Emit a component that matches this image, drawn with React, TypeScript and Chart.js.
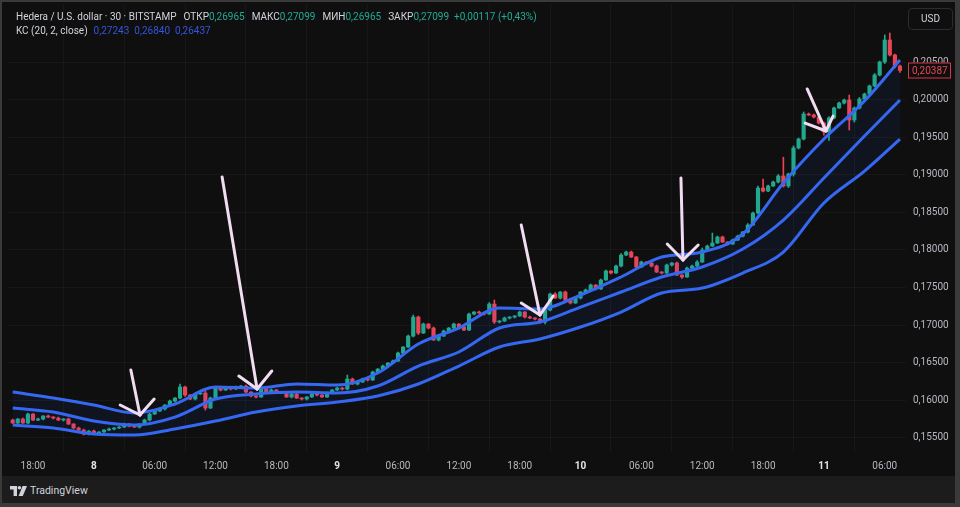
import React, { useEffect, useRef } from "react";
import { Chart, registerables } from "chart.js";

Chart.register(...registerables);

// HBAR/USD 30m candles (open of each bar = previous close)
const firstOpen = 0.15735;
const closes = [
  0.15696, 0.15749, 0.15696, 0.15815, 0.15735, 0.15749, 0.15789, 0.15775, 0.15762, 0.15735,
  0.15749, 0.15682, 0.15629, 0.15602, 0.15549, 0.15589, 0.15562, 0.15576, 0.15602, 0.15616,
  0.15629, 0.15642, 0.15682, 0.15656, 0.15642, 0.15682, 0.15735, 0.15815, 0.15855, 0.15882,
  0.15935, 0.15988, 0.16028, 0.16175, 0.16068, 0.16015, 0.16082, 0.16095, 0.15895, 0.16028,
  0.16161, 0.16135, 0.16161, 0.16148, 0.16175, 0.16188, 0.16108, 0.16055, 0.16042, 0.16148,
  0.16108, 0.16135, 0.16108, 0.16095, 0.16042, 0.16082, 0.16028, 0.16015, 0.16042, 0.16082,
  0.16068, 0.16042, 0.16095, 0.16135, 0.16161, 0.16148, 0.16281, 0.16215, 0.16241, 0.16281,
  0.16268, 0.16374, 0.16414, 0.16454, 0.16494, 0.16521, 0.16627, 0.16707, 0.16853, 0.17106,
  0.16893, 0.17013, 0.1696, 0.168, 0.16853, 0.1692, 0.1696, 0.17013, 0.16973, 0.16933,
  0.17146, 0.17173, 0.1716, 0.17146, 0.17279, 0.1704, 0.17053, 0.17093, 0.17106, 0.1712,
  0.17173, 0.17106, 0.17093, 0.1708, 0.1704, 0.17199, 0.17412, 0.17359, 0.17439, 0.17333,
  0.17293, 0.17359, 0.17439, 0.17466, 0.17532, 0.17479, 0.17599, 0.17719, 0.17692, 0.17785,
  0.17931, 0.17971, 0.17905, 0.17772, 0.17838, 0.17825, 0.17785, 0.17705, 0.17692, 0.17798,
  0.17825, 0.17665, 0.17639, 0.17758, 0.17785, 0.17838, 0.17998, 0.18051, 0.18091, 0.18171,
  0.18104, 0.18078, 0.18131, 0.18184, 0.18238, 0.18331, 0.1849, 0.18823, 0.18783, 0.1885,
  0.18903, 0.18983, 0.1885, 0.19009, 0.19356, 0.19475, 0.19808, 0.19795, 0.19768, 0.19688,
  0.19568, 0.19755, 0.19888, 0.19954, 0.19994, 0.19728, 0.19888, 0.20008, 0.20074, 0.20181,
  0.20327, 0.205, 0.20793, 0.20593, 0.20447, 0.20387,
];
// wick lengths in points (1 point = 0.00001)
const upperWickPts = [
  13, 7, 13, 13, 7, 13, 7, 13, 7, 13,
  7, 13, 7, 13, 13, 7, 13, 7, 7, 13,
  7, 7, 13, 7, 13, 7, 13, 13, 7, 13,
  7, 13, 7, 40, 13, 7, 13, 7, 27, 13,
  13, 7, 13, 7, 13, 7, 13, 7, 7, 13,
  7, 13, 7, 7, 13, 7, 13, 7, 7, 13,
  7, 7, 13, 7, 13, 7, 53, 13, 7, 13,
  7, 13, 7, 13, 7, 13, 13, 7, 13, 27,
  13, 13, 7, 13, 7, 13, 7, 13, 7, 13,
  13, 7, 13, 7, 20, 53, 7, 13, 7, 7,
  13, 7, 13, 7, 7, 13, 13, 20, 7, 13,
  7, 13, 7, 13, 13, 7, 13, 13, 7, 13,
  20, 13, 13, 7, 13, 7, 7, 13, 7, 13,
  7, 13, 7, 13, 13, 20, 27, 13, 133, 13,
  13, 7, 13, 13, 7, 20, 13, 27, 120, 13,
  13, 20, 250, 13, 27, 13, 27, 13, 13, 7,
  13, 20, 13, 13, 13, 67, 13, 20, 13, 13,
  20, 13, 67, 93, 13, 13,
];
const lowerWickPts = [
  7, 13, 7, 13, 7, 7, 13, 7, 13, 7,
  13, 7, 13, 7, 13, 13, 7, 13, 7, 7,
  13, 7, 7, 13, 7, 13, 7, 13, 7, 7,
  13, 7, 13, 13, 20, 7, 13, 7, 27, 7,
  7, 13, 7, 13, 7, 13, 7, 13, 13, 7,
  13, 7, 13, 7, 7, 13, 7, 13, 13, 7,
  13, 7, 7, 13, 7, 13, 13, 7, 13, 7,
  13, 7, 13, 7, 13, 7, 7, 13, 7, 13,
  20, 7, 13, 7, 13, 7, 13, 7, 13, 7,
  7, 13, 7, 13, 7, 20, 13, 7, 13, 13,
  7, 13, 7, 13, 20, 27, 13, 7, 13, 7,
  13, 7, 13, 7, 7, 13, 7, 7, 13, 7,
  13, 7, 7, 13, 7, 13, 13, 7, 13, 7,
  13, 7, 20, 7, 7, 13, 7, 13, 7, 7,
  7, 13, 7, 7, 13, 13, 7, 13, 13, 7,
  7, 13, 13, 20, 27, 13, 13, 7, 13, 13,
  40, 110, 13, 7, 13, 133, 27, 13, 13, 7,
  13, 13, 20, 13, 27, 27,
];

// Keltner channel (20, 2, close), sampled every 8 bars
const kcBarIndex = [0, 8, 16, 24, 32, 40, 48, 56, 64, 72, 80, 88, 96, 104, 112, 120, 128, 136, 144, 152, 160, 168, 175];
const kcUpper = [0.16108, 0.16028, 0.15935, 0.15829, 0.15949, 0.16175, 0.16161, 0.16215, 0.16201, 0.16361, 0.16747, 0.1696, 0.17226, 0.17213, 0.17399, 0.17639, 0.17905, 0.17971, 0.18211, 0.1889, 0.19475, 0.19981, 0.20527];
const kcMiddle = [0.15895, 0.15842, 0.15722, 0.15669, 0.15775, 0.16015, 0.16082, 0.16108, 0.16095, 0.16188, 0.16454, 0.16641, 0.1696, 0.1704, 0.17239, 0.17439, 0.17639, 0.17772, 0.18011, 0.18397, 0.18956, 0.19515, 0.19994];
const kcLower = [0.15669, 0.15629, 0.15549, 0.15536, 0.15616, 0.15722, 0.15842, 0.15922, 0.15975, 0.16055, 0.16215, 0.16454, 0.16707, 0.16814, 0.16973, 0.17173, 0.17426, 0.17492, 0.17692, 0.17971, 0.18624, 0.19049, 0.19475];

const timeTickIndex = [4, 16, 28, 40, 52, 64, 76, 88, 100, 112, 124, 136, 148, 160, 172];
const timeTickLabels = ["18:00", "8", "06:00", "12:00", "18:00", "9", "06:00", "12:00", "18:00", "10", "06:00", "12:00", "18:00", "11", "06:00"];
const priceTicks = [0.155, 0.16, 0.165, 0.17, 0.175, 0.18, 0.185, 0.19, 0.195, 0.2, 0.205];

// hand-drawn arrows on the screenshot, as [bar index, price]
const arrowTails = [[23.3, 0.16401], [41.3, 0.1897], [100.3, 0.18331], [131.8, 0.18956], [156.7, 0.20141]];
const arrowTips = [[25.1, 0.15802], [48.2, 0.16148], [104.0, 0.17133], [132.2, 0.17865], [160.4, 0.19582]];
const arrowLeftWings = [[21.2, 0.15935], [44.6, 0.16321], [100.3, 0.17293], [129.1, 0.18078], [156.3, 0.19688]];
const arrowRightWings = [[27.9, 0.16015], [51.1, 0.16388], [106.6, 0.17386], [135.2, 0.18065], [161.8, 0.19781]];

const POINT = 0.00001;
const UP = "#22a88f";
const DOWN = "#ea4458";
const KC_BLUE = "#3669f2";
const ARROW = "#f2dcf2";
const GRID = "rgba(255,255,255,0.035)";
const FONT = "Roboto";

const fmt = (v: number) => v.toFixed(5).replace(".", ",");

const candles = closes.map((c, i) => {
  const o = i === 0 ? firstOpen : closes[i - 1];
  return {
    o,
    c,
    hi: Math.max(o, c) + upperWickPts[i] * POINT,
    lo: Math.min(o, c) - lowerWickPts[i] * POINT,
    up: c >= o,
  };
});

const arrowPlugin = {
  id: "arrows",
  afterDatasetsDraw(chart: any) {
    const { ctx, scales } = chart;
    const px = (p: number[]) => [scales.x.getPixelForValue(p[0]), scales.y.getPixelForValue(p[1])];
    ctx.save();
    ctx.strokeStyle = ARROW;
    ctx.lineWidth = 3;
    ctx.lineCap = "round";
    arrowTips.forEach((tip, k) => {
      const t = px(tip);
      [arrowTails[k], arrowLeftWings[k], arrowRightWings[k]].forEach((p) => {
        const s = px(p);
        ctx.beginPath();
        ctx.moveTo(s[0], s[1]);
        ctx.lineTo(t[0], t[1]);
        ctx.stroke();
      });
    });
    ctx.restore();
  },
};

const lastPricePlugin = {
  id: "lastPrice",
  afterDraw(chart: any) {
    const { ctx, chartArea, scales } = chart;
    const last = closes[closes.length - 1];
    const y = scales.y.getPixelForValue(last);
    const x = chartArea.right + 2;
    ctx.save();
    ctx.fillStyle = "#0f0f0f";
    ctx.fillRect(x, y - 8, 43, 16);
    ctx.strokeStyle = "#d8364a";
    ctx.lineWidth = 1;
    ctx.strokeRect(x + 0.5, y - 7.5, 42, 15);
    ctx.fillStyle = "#e8475a";
    ctx.font = `10px ${FONT}`;
    ctx.textBaseline = "middle";
    ctx.fillText(fmt(last), x + 4, y + 0.5);
    ctx.restore();
  },
};

const KeltnerCandles: React.FC = () => {
  const canvasRef = useRef<HTMLCanvasElement | null>(null);

  useEffect(() => {
    const canvas = canvasRef.current;
    if (!canvas) return;

    const line = (values: number[], extra: any = {}) => ({
      type: "line",
      data: kcBarIndex.map((x, k) => ({ x, y: values[k] })),
      borderColor: KC_BLUE,
      borderWidth: 3,
      pointRadius: 0,
      cubicInterpolationMode: "monotone",
      fill: false,
      order: 0,
      ...extra,
    });

    const chart = new Chart(canvas, {
      type: "bar",
      data: {
        datasets: [
          line(kcUpper, { fill: 2, backgroundColor: "rgba(41,98,255,0.07)" }),
          line(kcMiddle),
          line(kcLower),
          {
            type: "bar",
            data: candles.map((k, i) => ({ x: i, y: [k.lo, k.hi] })),
            backgroundColor: candles.map((k) => (k.up ? UP : DOWN)),
            barThickness: 1,
            grouped: false,
            order: 1,
          },
          {
            type: "bar",
            data: candles.map((k, i) => ({ x: i, y: [k.o, k.c] })),
            backgroundColor: candles.map((k) => (k.up ? UP : DOWN)),
            barThickness: 3.5,
            minBarLength: 1,
            grouped: false,
            order: 1,
          },
        ] as any,
      },
      options: {
        animation: false,
        responsive: false,
        layout: { padding: 0 },
        plugins: { legend: { display: false }, tooltip: { enabled: false } },
        scales: {
          x: {
            type: "linear",
            min: -0.93,
            max: 176.19,
            offset: false,
            border: { display: false },
            grid: { color: GRID, drawTicks: false },
            afterBuildTicks: (s: any) => {
              s.ticks = timeTickIndex.map((value) => ({ value }));
            },
            afterFit: (s: any) => {
              s.height = 26;
              s.paddingLeft = 0;
              s.paddingRight = 0;
            },
            ticks: {
              autoSkip: false,
              maxRotation: 0,
              padding: 8,
              color: (c: any) => (timeTickLabels[c.index]?.includes(":") ? "#b6b9c0" : "#e4e6ea"),
              font: (c: any) => ({
                family: FONT,
                size: 10,
                weight: timeTickLabels[c.index]?.includes(":") ? "normal" : "bold",
              }),
              callback: (v: any) => timeTickLabels[timeTickIndex.indexOf(Number(v))] ?? "",
            },
          },
          y: {
            type: "linear",
            position: "right",
            min: 0.1531,
            max: 0.21272,
            border: { display: false },
            grid: { color: GRID, drawTicks: false },
            afterBuildTicks: (s: any) => {
              s.ticks = priceTicks.map((value) => ({ value }));
            },
            afterFit: (s: any) => {
              s.width = 49;
              s.paddingTop = 0;
              s.paddingBottom = 0;
            },
            ticks: {
              padding: 7,
              color: "#b6b9c0",
              font: { family: FONT, size: 10 },
              callback: (v: any) => fmt(Number(v)),
            },
          },
        },
      } as any,
      plugins: [arrowPlugin, lastPricePlugin],
    });

    return () => chart.destroy();
  }, []);

  return <canvas ref={canvasRef} width={947} height={474} style={{ width: 947, height: 474, display: "block" }} />;
};

const label = { color: "#d1d4dc" };
const green = { color: "#22ab94" };
const blue = { color: "#3556d8" };

export default function App() {
  return (
    <div
      style={{
        position: "fixed",
        left: 0,
        top: 0,
        width: 960,
        height: 507,
        background: "#3a3a3a",
        fontFamily: FONT,
        overflow: "hidden",
      }}
    >
      <div style={{ position: "absolute", left: 2, top: 2, width: 953, height: 501, background: "#0f0f0f" }} />
      <div style={{ position: "absolute", left: 8, top: 4 }}>
        <KeltnerCandles />
      </div>
      <div style={{ position: "absolute", left: 2, top: 476, width: 953, height: 27, background: "#1c1c1c" }}>
        <svg width="17" height="10" viewBox="0 0 17 10" style={{ position: "absolute", left: 8, top: 10 }}>
          <path d="M0 0 H7 V10 H3.6 V3.6 H0 Z" fill="#d1d4dc" />
          <circle cx="9.4" cy="1.8" r="1.8" fill="#d1d4dc" />
          <path d="M12.6 0 H17 L12.8 10 H8.6 Z" fill="#d1d4dc" />
        </svg>
        <div style={{ position: "absolute", left: 28, top: 8, fontSize: 10.5, color: "#d1d4dc", lineHeight: "13px" }}>
          TradingView
        </div>
      </div>
      <div
        style={{
          position: "absolute",
          left: 16,
          top: 11,
          fontSize: 10,
          lineHeight: "12px",
          whiteSpace: "nowrap",
          ...label,
        }}
      >
        <span>Hedera / U.S. dollar · 30 · BITSTAMP</span>
        <span style={{ marginLeft: 7 }}>ОТКР</span>
        <span style={green}>0,26965</span>
        <span style={{ marginLeft: 7 }}>МАКС</span>
        <span style={green}>0,27099</span>
        <span style={{ marginLeft: 7 }}>МИН</span>
        <span style={green}>0,26965</span>
        <span style={{ marginLeft: 7 }}>ЗАКР</span>
        <span style={green}>0,27099</span>
        <span style={{ marginLeft: 5, ...green }}>+0,00117 (+0,43%)</span>
      </div>
      <div
        style={{
          position: "absolute",
          left: 16,
          top: 25,
          fontSize: 10,
          lineHeight: "12px",
          whiteSpace: "nowrap",
          ...label,
        }}
      >
        <span>KC (20, 2, close)</span>
        <span style={{ marginLeft: 6, ...blue }}>0,27243</span>
        <span style={{ marginLeft: 5, ...blue }}>0,26840</span>
        <span style={{ marginLeft: 5, ...blue }}>0,26437</span>
      </div>
      <div
        style={{
          position: "absolute",
          left: 908,
          top: 8,
          width: 43,
          height: 20,
          border: "1px solid #2c2c2c",
          borderRadius: 4,
          color: "#d1d4dc",
          fontSize: 10,
          lineHeight: "20px",
          textAlign: "center",
        }}
      >
        USD
      </div>
    </div>
  );
}
